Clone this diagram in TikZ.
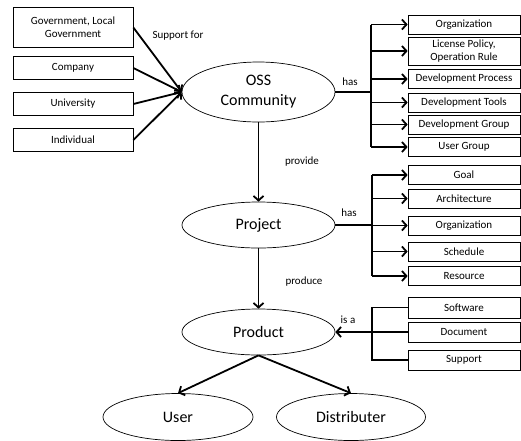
\documentclass[tikz,border=0pt]{standalone}
\usepackage{fontspec}
\setmainfont{Carlito}
\usetikzlibrary{arrows.meta,shapes.geometric}

\begin{document}
\begin{tikzpicture}[x=1pt,y=-1pt,
  box/.style={draw,line width=0.7pt,minimum width=112pt,minimum height=19pt,inner sep=0pt,align=center,font=\fontsize{11}{13}\selectfont},
  oval/.style={draw,ellipse,line width=0.7pt,minimum width=153pt,minimum height=46pt,inner sep=0pt,align=center,font=\fontsize{16}{20}\selectfont},
  conn/.style={line width=1.8pt},
  arr/.style={conn,-{Straight Barb[length=4.5pt,width=10pt]}},
  lbl/.style={font=\fontsize{11}{13}\selectfont}]
\useasboundingbox (0,0) rectangle (521,440);
% supporters
\node[box,minimum width=120pt,minimum height=40pt] (gov) at (73,27.5) {Government, Local\\Government};
\node[box,minimum width=120pt,minimum height=23pt] (com) at (73,68) {Company};
\node[box,minimum width=120pt,minimum height=23pt] (uni) at (73,104) {University};
\node[box,minimum width=120pt,minimum height=23pt] (ind) at (73,140) {Individual};
% main chain
\node[oval,minimum height=60pt] (oss) at (258.5,92) {OSS\\Community};
\node[oval] (proj) at (258.5,225) {Project};
\node[oval] (prod) at (258.5,332) {Product};
\node[oval,minimum width=150pt,minimum height=47pt] (user) at (178,417) {User};
\node[oval,minimum width=149pt,minimum height=47pt] (dist) at (351,417) {Distributer};
% what the community has
\node[box] (corg) at (464,24.5) {Organization};
\node[box,minimum height=28pt] (lic) at (464,51) {License Policy,\\Operation Rule};
\node[box] (dproc) at (464,79) {Development Process};
\node[box] (dtool) at (464,102.5) {Development Tools};
\node[box] (dgrp) at (464,124.5) {Development Group};
\node[box] (ugrp) at (464,147) {User Group};
% what the project has
\node[box] (goal) at (464,175) {Goal};
\node[box] (arch) at (464,198.5) {Architecture};
\node[box] (porg) at (464,225.5) {Organization};
\node[box] (sched) at (464,251.5) {Schedule};
\node[box] (res) at (464,276) {Resource};
% kinds of product
\node[box,minimum height=21pt] (soft) at (464,307.5) {Software};
\node[box,minimum height=20pt] (doc) at (464,332) {Document};
\node[box,minimum height=20pt] (supp) at (464,360) {Support};
% labels
\node[lbl] (lsup) at (178,36) {Support for};
\node[lbl] (lhas1) at (350,82) {has};
\node[lbl] (lprov) at (302,162) {provide};
\node[lbl] (lhas2) at (349,213) {has};
\node[lbl] (lprod) at (304,282) {produce};
\node[lbl] (lisa) at (348,320) {is a};
\coordinate (t1) at (371,92);
\coordinate (t2) at (372,225);
\coordinate (t3) at (372,332);
% connectors
\draw[arr] (gov.east) -- (oss.west);
\draw[arr] (com.east) -- (oss.west);
\draw[arr] (uni.east) -- (oss.west);
\draw[arr] (ind.east) -- (oss.west);
\draw[arr] (oss.south) -- (proj.north);
\draw[arr] (proj.south) -- (prod.north);
\draw[arr] (prod.south) -- (user.north);
\draw[arr] (prod.south) -- (dist.north);
\draw[conn] (oss.east) -- (t1);
\draw[conn] (corg.west -| t1) -- (ugrp.west -| t1);
\draw[arr] (corg.west -| t1) -- (corg.west);
\draw[arr] (lic.west -| t1) -- (lic.west);
\draw[arr] (dproc.west -| t1) -- (dproc.west);
\draw[arr] (dtool.west -| t1) -- (dtool.west);
\draw[arr] (dgrp.west -| t1) -- (dgrp.west);
\draw[arr] (ugrp.west -| t1) -- (ugrp.west);
\draw[conn] (proj.east) -- (t2);
\draw[conn] (goal.west -| t2) -- (res.west -| t2);
\draw[arr] (goal.west -| t2) -- (goal.west);
\draw[arr] (arch.west -| t2) -- (arch.west);
\draw[arr] (porg.west -| t2) -- (porg.west);
\draw[arr] (sched.west -| t2) -- (sched.west);
\draw[arr] (res.west -| t2) -- (res.west);
\draw[conn] (soft.west) -| (t3) |- (supp.west);
\draw[conn] (doc.west) -- (t3);
\draw[arr] (t3) -- (prod.east);
\end{tikzpicture}
\end{document}
